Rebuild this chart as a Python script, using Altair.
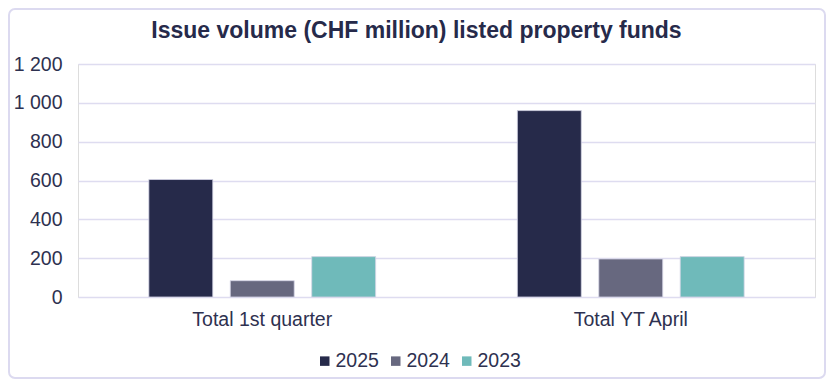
import altair as alt
import pandas as pd

categories = ["Total 1st quarter", "Total YT April"]
years = ["2025", "2024", "2023"]
values_2025 = [605, 960]
values_2024 = [84, 196]
values_2023 = [208, 208]
colors = ["#262a4a", "#67687f", "#6fbaba"]
y_ticks = [0, 200, 400, 600, 800, 1000, 1200]

rows = []
for i, c in enumerate(categories):
    for y, vals in zip(years, [values_2025, values_2024, values_2023]):
        rows.append({"category": c, "year": y, "value": vals[i]})
df = pd.DataFrame(rows)

W, H = 737, 233
PAD = {"left": 70, "top": 56, "right": 11, "bottom": 82}
FONT = "Liberation Sans"
TEXT = "#2e3150"

bars = alt.Chart(df).mark_bar(stroke="#d4d4e6", strokeWidth=0.8).encode(
    x=alt.X("category:N", sort=categories, title=None,
            scale=alt.Scale(paddingInner=0, paddingOuter=0),
            axis=alt.Axis(labelAngle=0, domain=False, ticks=False, labelPadding=13,
                          labelFontSize=19.5, labelColor=TEXT, labelFont=FONT, grid=False)),
    xOffset=alt.XOffset("year:N", sort=years,
                        scale=alt.Scale(paddingInner=0.215, paddingOuter=0.87)),
    y=alt.Y("value:Q", title=None,
            scale=alt.Scale(domain=[0, 1200], nice=False),
            axis=alt.Axis(values=y_ticks, domain=False, ticks=False, labelPadding=16,
                          labelFontSize=19.5, labelColor=TEXT, labelFont=FONT,
                          gridColor="#dedcf0", gridWidth=1.5,
                          labelExpr="replace(format(datum.value, ','), ',', ' ')")),
    color=alt.Color("year:N", sort=years,
                    scale=alt.Scale(domain=years, range=colors),
                    legend=alt.Legend(title=None, orient="none", direction="horizontal",
                                      legendX=237, legendY=287, symbolType="square",
                                      symbolSize=90, symbolStrokeWidth=0,
                                      labelFontSize=19.5, labelColor=TEXT, labelFont=FONT,
                                      columnPadding=7, labelOffset=1)),
)

frame_df = pd.DataFrame({"a": [0]})
frame = alt.Chart(frame_df).mark_rect(
    fill="transparent", stroke="#dcdaf0", strokeWidth=2, cornerRadius=6
).encode(
    x=alt.value(-69), x2=alt.value(747), y=alt.value(-55), y2=alt.value(314)
)

chart = alt.layer(bars, frame).properties(
    width=W, height=H,
    autosize=alt.AutoSizeParams(type="none"),
    padding=PAD,
    title=alt.TitleParams("Issue volume (CHF million) listed property funds",
                          fontSize=23, fontWeight="bold", font=FONT, color="#262a4a",
                          anchor="middle", dx=-30, offset=-35),
).configure_view(stroke=None).configure(background="white")

chart.save("out.html", embed_options={"renderer": "svg", "actions": False})
